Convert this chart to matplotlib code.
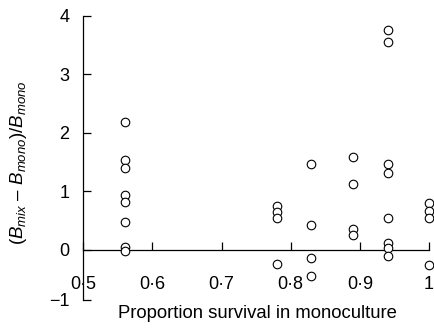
import numpy as np
import matplotlib
matplotlib.use('Agg')
import matplotlib.pyplot as plt

# Werte
survival = [0.56, 0.78, 0.83, 0.89, 0.94, 1.0]
effect = [
    [2.19, 1.54, 1.40, 0.94, 0.81, 0.48, 0.05, -0.03],
    [0.75, 0.64, 0.54, -0.24],
    [1.47, 0.43, -0.15, -0.45],
    [1.58, 1.12, 0.36, 0.25],
    [3.75, 3.55, 1.46, 1.31, 0.55, 0.11, 0.03, -0.10],
    [0.79, 0.66, 0.55, -0.27],
]
x_ticks = [0.5, 0.6, 0.7, 0.8, 0.9, 1.0]
x_labels = ['0·5', '0·6', '0·7', '0·8', '0·9', '1']
y_ticks = [-0.86, 0, 1, 2, 3, 4]
y_labels = ['\u22121', '0', '1', '2', '3', '4']

plt.rcParams['font.family'] = ['Liberation Sans', 'DejaVu Sans']
plt.rcParams['mathtext.fontset'] = 'custom'
plt.rcParams['mathtext.rm'] = 'Liberation Sans'
plt.rcParams['mathtext.it'] = 'Liberation Sans:italic'

fig = plt.figure(figsize=(4.35, 3.35), dpi=100)
ax = fig.add_axes([83.3 / 435, 35 / 335, (429 - 83.3) / 435, 284.3 / 335])

for xv, ys in zip(survival, effect):
    ax.scatter([xv] * len(ys), ys, s=38, facecolors='white', edgecolors='black',
               linewidths=0.8, zorder=3, clip_on=False)

ax.set_xlim(0.5, 1.0)
ax.set_ylim(-0.86, 4)

ax.spines['top'].set_visible(False)
ax.spines['right'].set_visible(False)
ax.spines['bottom'].set_position(('data', 0))
for s in ['left', 'bottom']:
    ax.spines[s].set_linewidth(0.9)

ax.set_xticks(x_ticks)
ax.set_xticklabels(x_labels)
ax.set_yticks(y_ticks)
ax.set_yticklabels(y_labels)
ax.tick_params(axis='x', direction='in', length=6, width=0.9, pad=19, labelsize=13)
ax.tick_params(axis='y', direction='in', length=6, width=0.9, pad=10, labelsize=13)

fig.text(257 / 435, 1 - 314 / 335, 'Proportion survival in monoculture',
         ha='center', va='center', fontsize=13.3)
fig.text(19 / 435, 1 - 163 / 335,
         r'$(B_{mix}$ $\mathrm{\u2013}$ $B_{mono})\mathrm{/}B_{mono}$'.replace('\\u2013', '–'),
         ha='center', va='center', rotation=90, fontsize=13.5)

fig.savefig('out.png', dpi=100)
